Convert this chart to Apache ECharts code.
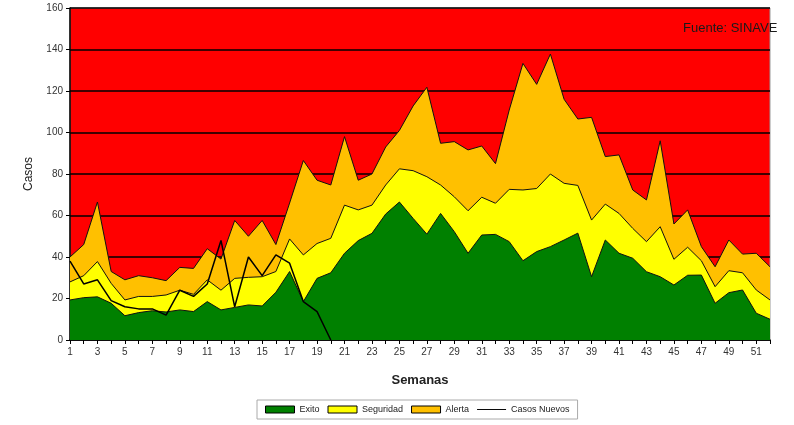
<!DOCTYPE html>
<html>
<head>
<meta charset="utf-8">
<script src="https://cdn.jsdelivr.net/npm/echarts@6/dist/echarts.min.js"></script>
<style>html,body{margin:0;padding:0;background:#fff;}#c{width:794px;height:425px;}</style>
</head>
<body>
<div id="c"></div>
<script>
const weeks = Array.from({length: 52}, (_, i) => String(i + 1));
const exito = [19.3, 20.4, 20.8, 17.7, 11.7, 13.2, 14.1, 13.5, 14.5, 13.7, 18.5, 14.5, 15.7, 16.9, 16.4, 23, 33, 18.5, 29.7, 32.4,
  41.8, 47.9, 51.4, 60.7, 66.5, 58.6, 51, 61, 52.2, 41.8, 50.6, 50.9, 47.4, 38.2, 42.6, 45, 48.2, 51.5, 30.5, 48.2,
  41.8, 39.4, 32.9, 30.5, 26.5, 31.2, 31.3, 17.7, 22.8, 24.1, 12.9, 10];
const seguridad = [28, 31, 37.8, 27.3, 19.3, 21, 21, 21.7, 24, 22, 29, 24, 29.7, 30.2, 30.5, 33, 48.7, 41, 46.5, 49,
  65, 62.7, 65, 74.7, 82.5, 81.6, 78.7, 74.7, 69, 62.3, 68.8, 65.9, 72.6, 72.3, 73, 80, 75.5, 74.5, 57.8, 65.5,
  61, 53.8, 47.4, 54.6, 38.9, 44.7, 38.2, 25.7, 33.4, 32.4, 24.1, 19.3];
const alerta = [40, 46, 66.5, 33, 29, 31, 30, 28.6, 35, 34.5, 44, 39, 57.6, 50, 57.6, 46, 66, 86.5, 77, 74.7,
  98, 77, 80, 93, 101, 112.8, 121.8, 94.8, 95.6, 91.6, 93.5, 85, 110.8, 133.3, 123.2, 137.8, 116, 106.5, 107.3, 88.4,
  89.2, 72.3, 67.5, 96, 55.9, 62.7, 45, 35.3, 48.2, 41.4, 41.8, 35.3];
const casosNuevos = [38, 27, 29, 19, 16, 15, 15, 12, 24, 21, 27, 48, 16, 40, 31, 41, 37, 18.5, 13.7, 0];

const chart = echarts.init(document.getElementById('c'), null, {renderer: 'canvas'});
const font = 'Liberation Sans, Arial, sans-serif';
const areaSeries = (name, data, color) => ({
  name, type: 'line', data, symbol: 'none', smooth: false,
  itemStyle: {color},
  lineStyle: {color: '#111', width: 1},
  areaStyle: {color, opacity: 1},
  emphasis: {disabled: true}
});
chart.setOption({
  animation: false,
  grid: {left: 70, right: 24, top: 8, bottom: 85, show: true, backgroundColor: '#FF0000', borderColor: '#999', borderWidth: 1},
  xAxis: {
    type: 'category', data: weeks, boundaryGap: false,
    name: 'Semanas', nameLocation: 'middle', nameGap: 34,
    nameTextStyle: {fontFamily: font, fontSize: 13, fontWeight: 'bold', color: '#222'},
    axisLine: {show: true, lineStyle: {color: '#000', width: 1.5}},
    axisTick: {show: true, interval: 0, length: 4, lineStyle: {color: '#000'}},
    axisLabel: {interval: 1, fontFamily: font, fontSize: 10, color: '#333', margin: 7},
    splitLine: {show: false}
  },
  yAxis: {
    type: 'value', min: 0, max: 160, interval: 20,
    name: 'Casos', nameLocation: 'middle', nameGap: 35, nameRotate: 90,
    nameTextStyle: {fontFamily: font, fontSize: 12, color: '#222'},
    axisLine: {show: true, lineStyle: {color: '#000', width: 1.5}},
    axisTick: {show: true, length: 4, lineStyle: {color: '#000'}},
    axisLabel: {fontFamily: font, fontSize: 10, color: '#333', margin: 7},
    splitLine: {show: true, lineStyle: {color: '#000', width: 1.5}}
  },
  legend: {
    top: 400, left: 257,
    itemWidth: 29, itemHeight: 7, itemGap: 8,
    padding: [5, 8], borderColor: '#aaa', borderWidth: 1,
    textStyle: {fontFamily: font, fontSize: 9, color: '#222'},
    data: [
      {name: 'Exito', icon: 'rect', itemStyle: {color: '#008000', borderColor: '#000', borderWidth: 1}},
      {name: 'Seguridad', icon: 'rect', itemStyle: {color: '#FFFF00', borderColor: '#000', borderWidth: 1}},
      {name: 'Alerta', icon: 'rect', itemStyle: {color: '#FFC000', borderColor: '#000', borderWidth: 1}},
      {name: 'Casos Nuevos', icon: 'path://M0,0 L60,0 L60,2 L0,2 Z', itemStyle: {color: '#000'}}
    ]
  },
  graphic: [{
    type: 'text', left: 683, top: 22,
    style: {text: 'Fuente: SINAVE', fontFamily: font, fontSize: 13, fill: '#1a1a1a'}
  }],
  series: [
    areaSeries('Alerta', alerta, '#FFC000'),
    areaSeries('Seguridad', seguridad, '#FFFF00'),
    areaSeries('Exito', exito, '#008000'),
    {name: 'Casos Nuevos', type: 'line', data: casosNuevos, symbol: 'none',
     itemStyle: {color: '#000'}, lineStyle: {color: '#000', width: 1.5}, emphasis: {disabled: true}}
  ]
});
</script>
</body>
</html>
